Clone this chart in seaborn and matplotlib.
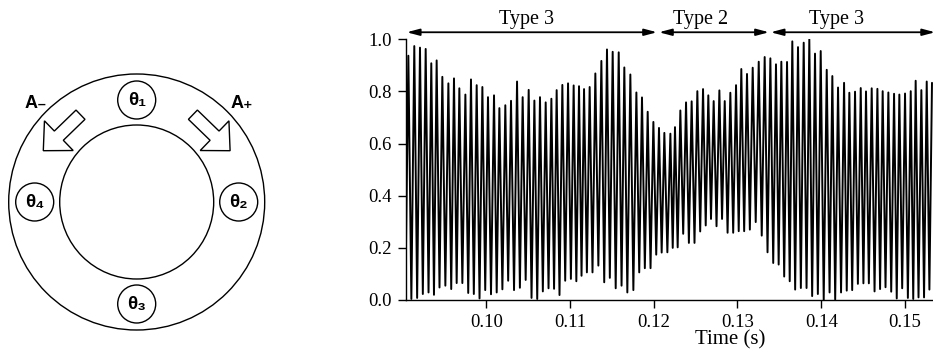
import numpy as np
import pandas as pd
import matplotlib
matplotlib.use("Agg")
import matplotlib.pyplot as plt
import seaborn as sns
from matplotlib.patches import Circle, FancyArrow

# ---- data ----
# peak times (s) and peak values
peak_t = [0.09070, 0.09141, 0.09209, 0.09277, 0.09344, 0.09408, 0.09476, 0.09548, 0.09615, 0.09679,
          0.09751, 0.09818, 0.09886, 0.09954, 0.10021, 0.10093, 0.10157, 0.10228, 0.10296, 0.10368,
          0.10435, 0.10507, 0.10575, 0.10642, 0.10710, 0.10778, 0.10841, 0.10909, 0.10977, 0.11044,
          0.11108, 0.11168, 0.11235, 0.11303, 0.11375, 0.11442, 0.11510, 0.11582, 0.11649, 0.11721,
          0.11793, 0.11860, 0.11928, 0.11996, 0.12063, 0.12127, 0.12199, 0.12254, 0.12318, 0.12386,
          0.12453, 0.12521, 0.12589, 0.12652, 0.12716, 0.12784, 0.12848, 0.12915, 0.12983, 0.13046,
          0.13114, 0.13182, 0.13254, 0.13325, 0.13393, 0.13460, 0.13524, 0.13592, 0.13655, 0.13723,
          0.13791, 0.13858, 0.13926, 0.13994, 0.14066, 0.14133, 0.14201, 0.14273, 0.14336, 0.14404,
          0.14472, 0.14535, 0.14603, 0.14671, 0.14734, 0.14802, 0.14870, 0.14933, 0.15001, 0.15069,
          0.15128, 0.15196, 0.15260, 0.15323]
peak_v = [0.937, 0.974, 0.968, 0.963, 0.908, 0.919, 0.856, 0.831, 0.850, 0.812,
          0.788, 0.846, 0.824, 0.817, 0.778, 0.785, 0.736, 0.747, 0.764, 0.838,
          0.778, 0.806, 0.765, 0.778, 0.758, 0.772, 0.805, 0.825, 0.831, 0.823,
          0.820, 0.809, 0.817, 0.869, 0.917, 0.961, 0.952, 0.950, 0.892, 0.865,
          0.796, 0.777, 0.722, 0.683, 0.660, 0.641, 0.638, 0.663, 0.727, 0.758,
          0.762, 0.801, 0.809, 0.785, 0.763, 0.804, 0.763, 0.795, 0.824, 0.886,
          0.867, 0.891, 0.914, 0.932, 0.927, 0.904, 0.914, 0.913, 0.992, 0.970,
          0.987, 1.000, 0.945, 0.955, 0.883, 0.859, 0.815, 0.833, 0.795, 0.799,
          0.813, 0.800, 0.812, 0.810, 0.801, 0.796, 0.791, 0.788, 0.792, 0.801,
          0.841, 0.805, 0.838, 0.833]

# trough times (s) and trough values
trough_t = [0.09036, 0.09106, 0.09175, 0.09243, 0.09311, 0.09376, 0.09442, 0.09512, 0.09582, 0.09647,
            0.09715, 0.09785, 0.09852, 0.09920, 0.09988, 0.10057, 0.10125, 0.10193, 0.10262, 0.10332,
            0.10402, 0.10471, 0.10541, 0.10609, 0.10676, 0.10744, 0.10810, 0.10875, 0.10943, 0.11011,
            0.11076, 0.11138, 0.11202, 0.11269, 0.11339, 0.11409, 0.11476, 0.11546, 0.11616, 0.11685,
            0.11757, 0.11827, 0.11894, 0.11962, 0.12030, 0.12095, 0.12163, 0.12227, 0.12286, 0.12352,
            0.12420, 0.12487, 0.12555, 0.12621, 0.12684, 0.12750, 0.12816, 0.12882, 0.12949, 0.13015,
            0.13080, 0.13148, 0.13218, 0.13290, 0.13359, 0.13427, 0.13492, 0.13558, 0.13624, 0.13689,
            0.13757, 0.13825, 0.13892, 0.13960, 0.14030, 0.14100, 0.14167, 0.14237, 0.14305, 0.14370,
            0.14438, 0.14504, 0.14569, 0.14637, 0.14703, 0.14768, 0.14836, 0.14902, 0.14967, 0.15035,
            0.15099, 0.15162, 0.15228, 0.15292]
trough_v = [0.042, 0.004, 0.008, 0.023, 0.029, 0.020, 0.048, 0.055, 0.042, 0.065,
            0.065, 0.027, 0.023, 0.006, 0.038, 0.022, 0.029, 0.041, 0.074, 0.038,
            0.047, 0.077, 0.008, 0.004, 0.033, 0.045, 0.043, 0.019, 0.074, 0.081,
            0.072, 0.093, 0.106, 0.106, 0.132, 0.068, 0.085, 0.045, 0.055, 0.029,
            0.038, 0.106, 0.122, 0.122, 0.174, 0.182, 0.183, 0.200, 0.202, 0.254,
            0.219, 0.219, 0.263, 0.286, 0.311, 0.283, 0.311, 0.258, 0.258, 0.264,
            0.264, 0.270, 0.299, 0.247, 0.183, 0.142, 0.136, 0.090, 0.072, 0.040,
            0.046, 0.046, 0.015, 0.023, 0.000, 0.029, 0.002, 0.029, 0.036, 0.038,
            0.062, 0.064, 0.064, 0.033, 0.042, 0.049, 0.032, 0.006, 0.045, 0.008,
            0.004, 0.010, 0.010, 0.040]

# regime annotations: label, start, end, label position
regimes = ["Type 3", "Type 2", "Type 3"]
regime_start = [0.09051, 0.12063, 0.13397]
regime_end = [0.12039, 0.13376, 0.15360]
regime_label_t = [0.10475, 0.12562, 0.14181]

# diagram labels
sensor_labels = ["θ₁", "θ₂", "θ₃", "θ₄"]
wave_labels = ["A₋", "A₊"]

x_ticks = [0.10, 0.11, 0.12, 0.13, 0.14, 0.15]
y_ticks = [0.0, 0.2, 0.4, 0.6, 0.8, 1.0]

sns.set_style("ticks")
plt.rcParams['font.family'] = ['Liberation Serif', 'DejaVu Serif']
plt.rcParams['text.color'] = 'black'
plt.rcParams['axes.labelcolor'] = 'black'
plt.rcParams['xtick.color'] = 'black'
plt.rcParams['ytick.color'] = 'black'
plt.rcParams['axes.edgecolor'] = 'black'

W, H = 933, 357
fig = plt.figure(figsize=(W / 100, H / 100), dpi=100)

# ---- signal trace ----
df = pd.concat([pd.DataFrame({'t': peak_t, 'v': peak_v}),
                pd.DataFrame({'t': trough_t, 'v': trough_v})]).sort_values('t')

ax = fig.add_axes([406 / W, 57 / H, (W - 406) / W, 260.7 / H])
sns.lineplot(data=df, x='t', y='v', estimator=None, sort=True, color='black',
             linewidth=1.4, ax=ax)
ax.set_xlim(0.09042, 0.15335)
ax.set_ylim(0, 1.0)
ax.set_xticks(x_ticks)
ax.set_xticklabels([f"{x:.2f}" for x in x_ticks])
ax.set_yticks(y_ticks)
ax.set_yticklabels([f"{y:.1f}" for y in y_ticks])
ax.tick_params(labelsize=13.5, length=6, width=1, direction='out', pad=4)
ax.set_ylabel('')
ax.set_xlabel('Time (s)', fontsize=15)
ax.xaxis.set_label_coords(0.615, -0.115)
for s in ['left', 'bottom']:
    ax.spines[s].set_linewidth(1)
sns.despine(ax=ax)

for lab, t0, t1, tl in zip(regimes, regime_start, regime_end, regime_label_t):
    ax.annotate('', xy=(t1, 1.027), xytext=(t0, 1.027),
                xycoords=('data', 'axes fraction'), textcoords=('data', 'axes fraction'),
                arrowprops=dict(arrowstyle='<|-|>,head_length=0.75,head_width=0.2',
                                color='black', lw=1.3, shrinkA=0, shrinkB=0,
                                mutation_scale=10),
                annotation_clip=False)
    ax.text(tl, 1.059, lab, transform=ax.get_xaxis_transform(), ha='center',
            va='baseline', fontsize=14.5, clip_on=False)

# ---- ring diagram (pixel coordinates) ----
axd = fig.add_axes([0, 0, 300 / W, 1])
axd.set_xlim(0, 300)
axd.set_ylim(H, 0)
axd.axis('off')

cx, cy = 136.7, 202
axd.add_patch(Circle((cx, cy), 128, fill=False, ec='black', lw=1))
axd.add_patch(Circle((cx, cy), 77, fill=False, ec='black', lw=1))

sensor_angles = [90, 0, 270, 180]
for lab, ang in zip(sensor_labels, sensor_angles):
    px = cx + 102 * np.cos(np.radians(ang))
    py = cy - 102 * np.sin(np.radians(ang))
    axd.add_patch(Circle((px, py), 19, fc='white', ec='black', lw=1))
    axd.text(px, py + 1, lab, ha='center', va='center', fontsize=13.5, fontweight='bold',
             family=['Liberation Sans', 'DejaVu Sans'])

for sign in [-1, 1]:
    axd.add_patch(FancyArrow(cx + sign * 56.2, 114.7, sign * 37.2, 36.0, width=12.9,
                             head_width=41.3, head_length=21.6,
                             length_includes_head=True, fc='white', ec='black', lw=1))

axd.text(25, 103, wave_labels[0], ha='left', va='center', fontsize=13,
         fontweight='bold', family=['Liberation Sans', 'DejaVu Sans'])
axd.text(231, 103, wave_labels[1], ha='left', va='center', fontsize=13,
         fontweight='bold', family=['Liberation Sans', 'DejaVu Sans'])

fig.savefig('out.png', dpi=100)
